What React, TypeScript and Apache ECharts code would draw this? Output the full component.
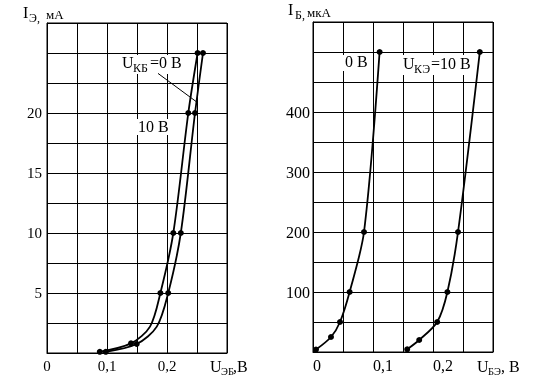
import React, { useEffect, useRef } from "react";
import * as echarts from "echarts";

const F = "Liberation Serif";

// Left chart: I_E (mA) vs U_EB (V)
const leftCurveA: [number, number][] = [
  [0.088, 0.1], [0.14, 0.8], [0.1717, 2.2], [0.189, 5], [0.2105, 10], [0.2355, 20], [0.251, 25],
];
const leftCurveAMarked = [true, true, false, true, true, true, true];
const leftCurveB: [number, number][] = [
  [0.098, 0.1], [0.1495, 0.75], [0.183, 2.2], [0.202, 5], [0.223, 10], [0.2467, 20], [0.26, 25],
];
const leftCurveBMarked = [true, true, false, true, true, true, true];
const leftXTicks = [0, 0.1, 0.2];
const leftXTickLabels = ["0", "0,1", "0,2"];
const leftYTicks = [5, 10, 15, 20];
const leftYTickLabels = ["5", "10", "15", "20"];
const leaderLine: [number, number][] = [[0.185, 23.3], [0.25, 20.9]];

// Right chart: I_B (µA) vs U_BE (V)
const rightCurve0: [number, number][] = [
  [0.005, 4], [0.03, 25], [0.045, 50], [0.061, 100], [0.085, 200], [0.111, 500],
];
const rightCurve10: [number, number][] = [
  [0.157, 4.5], [0.177, 20], [0.207, 50], [0.224, 100], [0.2417, 200], [0.278, 500],
];
const rightXTicks = [0, 0.1, 0.2];
const rightXTickLabels = ["0", "0,1", "0,2"];
const rightYTicks = [100, 200, 300, 400];
const rightYTickLabels = ["100", "200", "300", "400"];

function pick(ticks: number[], labels: string[], scale: number) {
  return (v: number) => {
    const i = ticks.findIndex((t) => Math.round(t * scale) === Math.round(v * scale));
    return i >= 0 ? labels[i] : "";
  };
}

function txt(x: number, base: number, text: string, fs: number) {
  return {
    type: "text",
    x,
    y: base - 0.34 * fs,
    z: 5,
    style: { text, fontFamily: F, fontSize: fs, fill: "#000", align: "left", verticalAlign: "middle" },
  };
}
function bg(x: number, y: number, w: number, h: number) {
  return { type: "rect", z: 1, shape: { x, y, width: w, height: h }, style: { fill: "#fff" } };
}

export default function App() {
  const ref = useRef<HTMLDivElement>(null);
  useEffect(() => {
    if (!ref.current) return;
    const chart = echarts.init(ref.current, null, { renderer: "svg" });
    const axisCommon = {
      type: "value",
      axisLine: { show: true, lineStyle: { color: "#000", width: 1 } },
      axisTick: { show: false },
      splitLine: { show: true, lineStyle: { color: "#000", width: 1 } },
    };
    const lbl = { color: "#000", fontFamily: F, fontSize: 15, interval: 0 };
    const lineSeries = (xi: number, data: [number, number][], marked: boolean[] | null) => ({
      type: "line",
      xAxisIndex: xi,
      yAxisIndex: xi,
      smooth: 0.3,
      showAllSymbol: true,
      symbol: "circle",
      symbolSize: 6,
      lineStyle: { color: "#000", width: 1.8 },
      itemStyle: { color: "#000" },
      data: data.map((d, i) =>
        marked && !marked[i] ? { value: d, symbol: "none" } : { value: d }
      ),
    });
    chart.setOption({
      animation: false,
      textStyle: { fontFamily: F },
      grid: [
        { left: 47, top: 23, width: 180, height: 330, show: true, borderColor: "#000", borderWidth: 1 },
        { left: 313, top: 22, width: 180, height: 330, show: true, borderColor: "#000", borderWidth: 1 },
      ],
      xAxis: [
        {
          ...axisCommon, gridIndex: 0, min: 0, max: 0.3, interval: 0.05,
          axisLabel: { ...lbl, margin: 5, formatter: pick(leftXTicks, leftXTickLabels, 100) },
        },
        {
          ...axisCommon, gridIndex: 1, min: 0, max: 0.3, interval: 0.05,
          axisLabel: { ...lbl, fontSize: 16, margin: 5, align: "left",
            formatter: pick(rightXTicks, rightXTickLabels, 100) },
        },
      ],
      yAxis: [
        {
          ...axisCommon, gridIndex: 0, min: 0, max: 27.5, interval: 2.5,
          axisLabel: { ...lbl, margin: 5, formatter: pick(leftYTicks, leftYTickLabels, 10) },
        },
        {
          ...axisCommon, gridIndex: 1, min: 0, max: 550, interval: 50,
          axisLabel: { ...lbl, fontSize: 16, margin: 3, formatter: pick(rightYTicks, rightYTickLabels, 1) },
        },
      ],
      series: [
        {
          ...lineSeries(0, leftCurveA, leftCurveAMarked),
          markLine: {
            silent: true,
            symbol: "none",
            label: { show: false },
            lineStyle: { color: "#000", width: 1, type: "solid" },
            data: [[{ coord: leaderLine[0] }, { coord: leaderLine[1] }]],
          },
        },
        lineSeries(0, leftCurveB, leftCurveBMarked),
        lineSeries(1, rightCurve0, null),
        lineSeries(1, rightCurve10, null),
      ],
      graphic: [
        // axis titles
        txt(23, 18, "I", 16), txt(29, 22, "Э,", 12), txt(46, 18.5, "мА", 13),
        txt(288, 14.5, "I", 16), txt(295, 19, "Б,", 12), txt(307, 17, "мкА", 13),
        txt(210, 372, "U", 16), txt(221, 375, "ЭБ", 10.5), txt(233, 372, ",В", 16),
        txt(477, 372, "U", 16), txt(488, 375, "БЭ", 10.5), txt(501, 372, ", В", 16),
        // curve labels
        bg(120, 55, 69, 19),
        txt(122, 68, "U", 16), txt(133, 72, "КБ", 12), txt(150, 68, "=0 В", 16),
        bg(136, 119, 38, 16),
        txt(138, 132, "10 В", 16),
        bg(343, 55, 27, 16),
        txt(345, 67, "0 В", 16),
        bg(401, 55, 74, 20),
        txt(403, 68.5, "U", 16), txt(414, 73, "КЭ", 12), txt(431, 68.5, "=10 В", 16),
      ],
    });
    return () => chart.dispose();
  }, []);
  return <div ref={ref} style={{ width: 536, height: 386, position: "fixed", left: 0, top: 0 }} />;
}
